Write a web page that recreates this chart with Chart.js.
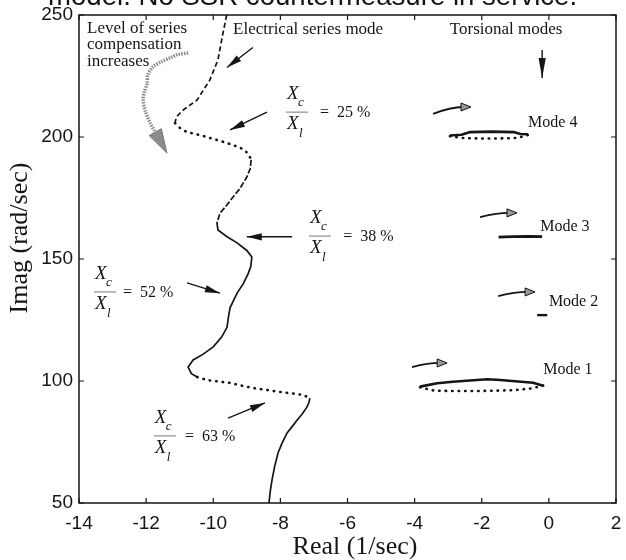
<!DOCTYPE html>
<html>
<head>
<meta charset="utf-8">
<script src="https://cdn.jsdelivr.net/npm/chart.js@4.4.1/dist/chart.umd.min.js"></script>
<style>
  html, body { margin: 0; padding: 0; background: #fff; }
</style>
</head>
<body>
<canvas id="rootLocus" width="626" height="560"></canvas>
<script>
// electrical series mode locus, read from top (low compensation) to bottom
const elecDashTopReal = [-9.60, -9.71, -9.86, -10.10, -10.48, -10.90, -11.10, -11.14];
const elecDashTopImag = [250, 242.6, 231.6, 223.4, 215.2, 211.0, 208.2, 205.7];
const elecDotUpperReal = [-11.14, -10.99, -10.78, -10.40, -10.10, -9.75, -9.41, -9.10, -8.95, -8.87];
const elecDotUpperImag = [205.7, 203.7, 202.0, 200.8, 199.6, 198.2, 196.7, 195.0, 193.0, 190.6];
const elecDashMidReal = [-8.87, -8.90, -9.00, -9.20, -9.41, -9.60, -9.80, -9.89];
const elecDashMidImag = [190.6, 187.0, 183.6, 179.0, 175.4, 172.0, 168.8, 164.8];
const elecSolidMidReal = [-9.89, -9.86, -9.60, -9.29, -9.00, -8.85, -8.88, -8.96, -9.10, -9.29, -9.50, -9.55, -9.59, -9.75, -10.00, -10.30, -10.60, -10.75, -10.65, -10.48];
const elecSolidMidImag = [164.8, 161.9, 159.2, 156.6, 153.5, 150.8, 147.0, 144.0, 140.0, 136.0, 130.0, 126.0, 122.0, 118.0, 114.0, 111.0, 108.6, 105.7, 103.0, 101.6];
const elecDotLowerReal = [-10.48, -10.19, -9.85, -9.50, -9.15, -8.81, -8.40, -8.01, -7.65, -7.33, -7.12];
const elecDotLowerImag = [101.6, 100.4, 99.8, 99.2, 98.1, 97.1, 96.3, 95.5, 94.9, 94.3, 93.0];
const elecSolidLowReal = [-7.12, -7.15, -7.21, -7.35, -7.50, -7.65, -7.80, -7.95, -8.07, -8.17, -8.25, -8.30, -8.34];
const elecSolidLowImag = [93.0, 91.2, 89.3, 86.5, 84.0, 81.3, 78.7, 74.5, 70.5, 65.0, 59.4, 55.0, 50.0];

// torsional modes
const mode4SolidReal = [-2.95, -2.60, -2.35, -1.70, -1.05, -0.85, -0.62];
const mode4SolidImag = [200.6, 200.9, 202.0, 202.2, 202.0, 201.2, 201.1];
const mode4DotReal = [-2.95, -2.50, -2.00, -1.50, -0.95, -0.62];
const mode4DotImag = [200.3, 199.5, 199.4, 199.4, 199.6, 200.8];
const mode3Real = [-1.50, -1.10, -0.60, -0.20];
const mode3Imag = [159.0, 159.2, 159.3, 159.2];
const mode2Real = [-0.35, -0.05];
const mode2Imag = [127.0, 127.0];
const mode1SolidReal = [-3.84, -3.33, -2.86, -1.84, -1.45, -0.47, -0.17];
const mode1SolidImag = [97.7, 99.1, 99.7, 100.7, 100.4, 99.3, 98.1];
const mode1DotReal = [-3.84, -3.40, -2.80, -2.20, -1.60, -1.00, -0.50, -0.17];
const mode1DotImag = [97.4, 96.0, 95.9, 95.9, 96.0, 96.3, 97.0, 98.1];

// "level of series compensation increases" curved arrow
const compArrowReal = [-10.75, -11.05, -11.29, -11.55, -11.80, -11.95, -11.97, -12.05, -12.09, -12.02, -11.88, -11.75, -11.65, -11.38];
const compArrowImag = [234.4, 233.8, 232.4, 230.8, 228.7, 225.5, 222.0, 218.5, 215.2, 210.5, 205.7, 202.5, 200.0, 193.4];

// axis ticks
const realTicks = [-14, -12, -10, -8, -6, -4, -2, 0, 2];
const imagTicks = [50, 100, 150, 200, 250];

// annotation arrows: [tailReal, tailImag, headReal, headImag]
const pointerArrows = [
  [-8.82, 236.7, -9.59, 228.5],
  [-8.40, 210.2, -9.50, 202.9],
  [-7.65, 159.1, -9.00, 159.1],
  [-10.78, 140.2, -9.80, 136.0],
  [-9.56, 84.8, -8.46, 91.0],
  [-0.20, 235.7, -0.20, 224.2]
];
const modeArrows = [
  [-3.45, 209.5, -2.38, 212.3],
  [-2.05, 167.2, -1.01, 168.9],
  [-1.51, 134.8, -0.47, 136.5],
  [-4.08, 105.7, -3.09, 107.4]
];

// ratio labels: [xReal, barImag, eqReal, percent]
const ratioLabels = [
  [-7.80, 210.2, -6.82, '25'],
  [-7.12, 159.4, -6.13, '38'],
  [-13.52, 136.5, -12.69, '52'],
  [-11.74, 77.5, -10.84, '63']
];
const headLabels = [
  ['Level of series', -13.76, 244.3],
  ['compensation', -13.76, 237.7],
  ['increases', -13.76, 231.1],
  ['Electrical series mode', -9.41, 243.9],
  ['Torsional modes', -2.95, 243.9]
];
const modeLabels = [
  ['Mode 4', -0.62, 205.7],
  ['Mode 3', -0.26, 163.1],
  ['Mode 2', 0.0, 132.4],
  ['Mode 1', -0.17, 104.5]
];

const ink = '#151515';
const serif = '"Liberation Serif", "DejaVu Serif", serif';
const sans = '"Liberation Sans", Arial, sans-serif';

const toPoints = (re, im) => re.map((x, i) => ({ x, y: im[i] }));

const line = (re, im, opts) => Object.assign({
  data: toPoints(re, im),
  showLine: true,
  pointRadius: 0,
  borderColor: ink,
  borderWidth: 1.7,
  fill: false
}, opts);

const dotted = { borderDash: [0.5, 6], borderWidth: 2.6, borderCapStyle: 'round' };

function arrowHead(ctx, x1, y1, x2, y2, len, half, fill, stroke) {
  const a = Math.atan2(y2 - y1, x2 - x1);
  const bx = x2 - len * Math.cos(a), by = y2 - len * Math.sin(a);
  const nx = -Math.sin(a) * half, ny = Math.cos(a) * half;
  ctx.beginPath();
  ctx.moveTo(x2, y2);
  ctx.lineTo(bx + nx, by + ny);
  ctx.lineTo(bx - nx, by - ny);
  ctx.closePath();
  ctx.fillStyle = fill;
  ctx.fill();
  if (stroke) {
    ctx.strokeStyle = stroke;
    ctx.lineWidth = 1;
    ctx.stroke();
  }
}

const figureInk = {
  id: 'figureInk',
  afterDraw(chart) {
    const ctx = chart.ctx;
    const xs = chart.scales.x, ys = chart.scales.y;
    const px = v => xs.getPixelForValue(v);
    const py = v => ys.getPixelForValue(v);
    const { left, right, top, bottom } = chart.chartArea;
    ctx.save();

    // box and inward ticks
    ctx.strokeStyle = ink;
    ctx.lineWidth = 1.5;
    ctx.strokeRect(left, top, right - left, bottom - top);
    ctx.lineWidth = 1.2;
    ctx.beginPath();
    realTicks.forEach(v => {
      const x = px(v);
      ctx.moveTo(x, bottom); ctx.lineTo(x, bottom - 5);
      ctx.moveTo(x, top); ctx.lineTo(x, top + 5);
    });
    imagTicks.forEach(v => {
      const y = py(v);
      ctx.moveTo(left, y); ctx.lineTo(left + 5, y);
      ctx.moveTo(right, y); ctx.lineTo(right - 5, y);
    });
    ctx.stroke();

    // tick labels
    ctx.fillStyle = ink;
    ctx.font = '19px ' + sans;
    ctx.textAlign = 'center';
    ctx.textBaseline = 'top';
    realTicks.forEach(v => ctx.fillText(String(v), px(v), bottom + 11));
    ctx.textAlign = 'right';
    ctx.textBaseline = 'middle';
    imagTicks.forEach(v => ctx.fillText(String(v), left - 6, py(v)));

    // straight black pointer arrows
    pointerArrows.forEach(([tr, ti, hr, hi]) => {
      const x1 = px(tr), y1 = py(ti), x2 = px(hr), y2 = py(hi);
      ctx.strokeStyle = ink;
      ctx.lineWidth = 1.4;
      ctx.beginPath(); ctx.moveTo(x1, y1); ctx.lineTo(x2, y2); ctx.stroke();
      const vertical = Math.abs(x2 - x1) < 1;
      arrowHead(ctx, x1, y1, x2, y2, vertical ? 20 : 15, 3.6, ink);
    });

    // curved arrows next to the torsional modes
    modeArrows.forEach(([tr, ti, hr, hi]) => {
      const x1 = px(tr), y1 = py(ti), x2 = px(hr), y2 = py(hi);
      const cx = (x1 + x2) / 2, cy = y2;
      ctx.strokeStyle = ink;
      ctx.lineWidth = 1.8;
      ctx.beginPath(); ctx.moveTo(x1, y1); ctx.quadraticCurveTo(cx, cy, x2 - 6, y2); ctx.stroke();
      arrowHead(ctx, cx, cy, x2 + 2, y2, 10, 4, '#9a9a9a', ink);
    });

    // head of the compensation arrow
    const n = compArrowReal.length;
    arrowHead(ctx, px(compArrowReal[n - 4]), py(compArrowImag[n - 4]),
      px(compArrowReal[n - 1]), py(compArrowImag[n - 1]), 24, 7, '#8c8c8c', '#777');

    // text labels
    ctx.fillStyle = ink;
    ctx.textBaseline = 'middle';
    ctx.textAlign = 'left';
    ctx.font = '17px ' + serif;
    headLabels.forEach(([t, r, i]) => ctx.fillText(t, px(r), py(i)));
    ctx.font = '16px ' + serif;
    modeLabels.forEach(([t, r, i]) => ctx.fillText(t, px(r), py(i)));

    // Xc / Xl ratio labels
    ratioLabels.forEach(([r, i, er, pct]) => {
      const x = px(r), b = py(i);
      ctx.textBaseline = 'alphabetic';
      ctx.font = 'italic 19px ' + serif;
      ctx.fillText('X', x, b - 13);
      ctx.fillText('X', x, b + 17);
      ctx.font = 'italic 13px ' + serif;
      ctx.fillText('c', x + 11, b - 6);
      ctx.fillText('l', x + 12, b + 25);
      ctx.lineWidth = 1;
      ctx.beginPath(); ctx.moveTo(x - 1, b); ctx.lineTo(x + 21, b); ctx.stroke();
      ctx.textBaseline = 'middle';
      ctx.font = '16px ' + serif;
      ctx.fillText('=  ' + pct + ' %', px(er), b + 1);
    });

    // axis titles
    ctx.font = '26px ' + serif;
    ctx.textAlign = 'center';
    ctx.textBaseline = 'middle';
    ctx.fillText('Real (1/sec)', 355, 547);
    ctx.save();
    ctx.translate(20, 238);
    ctx.rotate(-Math.PI / 2);
    ctx.fillText('Imag (rad/sec)', 0, 0);
    ctx.restore();

    // clipped caption line from the scanned page above
    const caption = 'model. No SSR countermeasure in service.';
    ctx.font = '20px ' + sans;
    const w = ctx.measureText(caption).width;
    const size = 20 * 529 / w;
    ctx.font = size.toFixed(1) + 'px ' + sans;
    ctx.textAlign = 'left';
    ctx.textBaseline = 'alphabetic';
    ctx.fillText(caption, 48, 5);

    ctx.restore();
  }
};

new Chart(document.getElementById('rootLocus'), {
  type: 'scatter',
  data: {
    datasets: [
      line(elecDashTopReal, elecDashTopImag, { borderDash: [5, 3] }),
      line(elecDotUpperReal, elecDotUpperImag, dotted),
      line(elecDashMidReal, elecDashMidImag, { borderDash: [6, 2] }),
      line(elecSolidMidReal, elecSolidMidImag, {}),
      line(elecDotLowerReal, elecDotLowerImag, dotted),
      line(elecSolidLowReal, elecSolidLowImag, {}),
      line(mode4SolidReal, mode4SolidImag, { borderWidth: 2.6 }),
      line(mode4DotReal, mode4DotImag, dotted),
      line(mode3Real, mode3Imag, { borderWidth: 2.8 }),
      line(mode2Real, mode2Imag, { borderWidth: 2.4 }),
      line(mode1SolidReal, mode1SolidImag, { borderWidth: 2.6 }),
      line(mode1DotReal, mode1DotImag, dotted),
      line(compArrowReal.slice(0, -1), compArrowImag.slice(0, -1), {
        borderColor: '#8a8a8a', borderWidth: 3.5, borderDash: [1.5, 1.2], tension: 0.3
      })
    ]
  },
  options: {
    responsive: false,
    animation: false,
    devicePixelRatio: 1,
    layout: { padding: { top: 15, right: 10, left: 0, bottom: 0 } },
    plugins: { legend: { display: false }, tooltip: { enabled: false } },
    scales: {
      x: {
        type: 'linear',
        min: -14,
        max: 2,
        afterBuildTicks: s => { s.ticks = realTicks.map(v => ({ value: v })); },
        afterFit: s => { s.height = 57; },
        grid: { display: false },
        border: { display: false },
        ticks: { display: false }
      },
      y: {
        type: 'linear',
        min: 50,
        max: 250,
        afterBuildTicks: s => { s.ticks = imagTicks.map(v => ({ value: v })); },
        afterFit: s => { s.width = 79; },
        grid: { display: false },
        border: { display: false },
        ticks: { display: false }
      }
    }
  },
  plugins: [figureInk]
});
</script>
</body>
</html>
